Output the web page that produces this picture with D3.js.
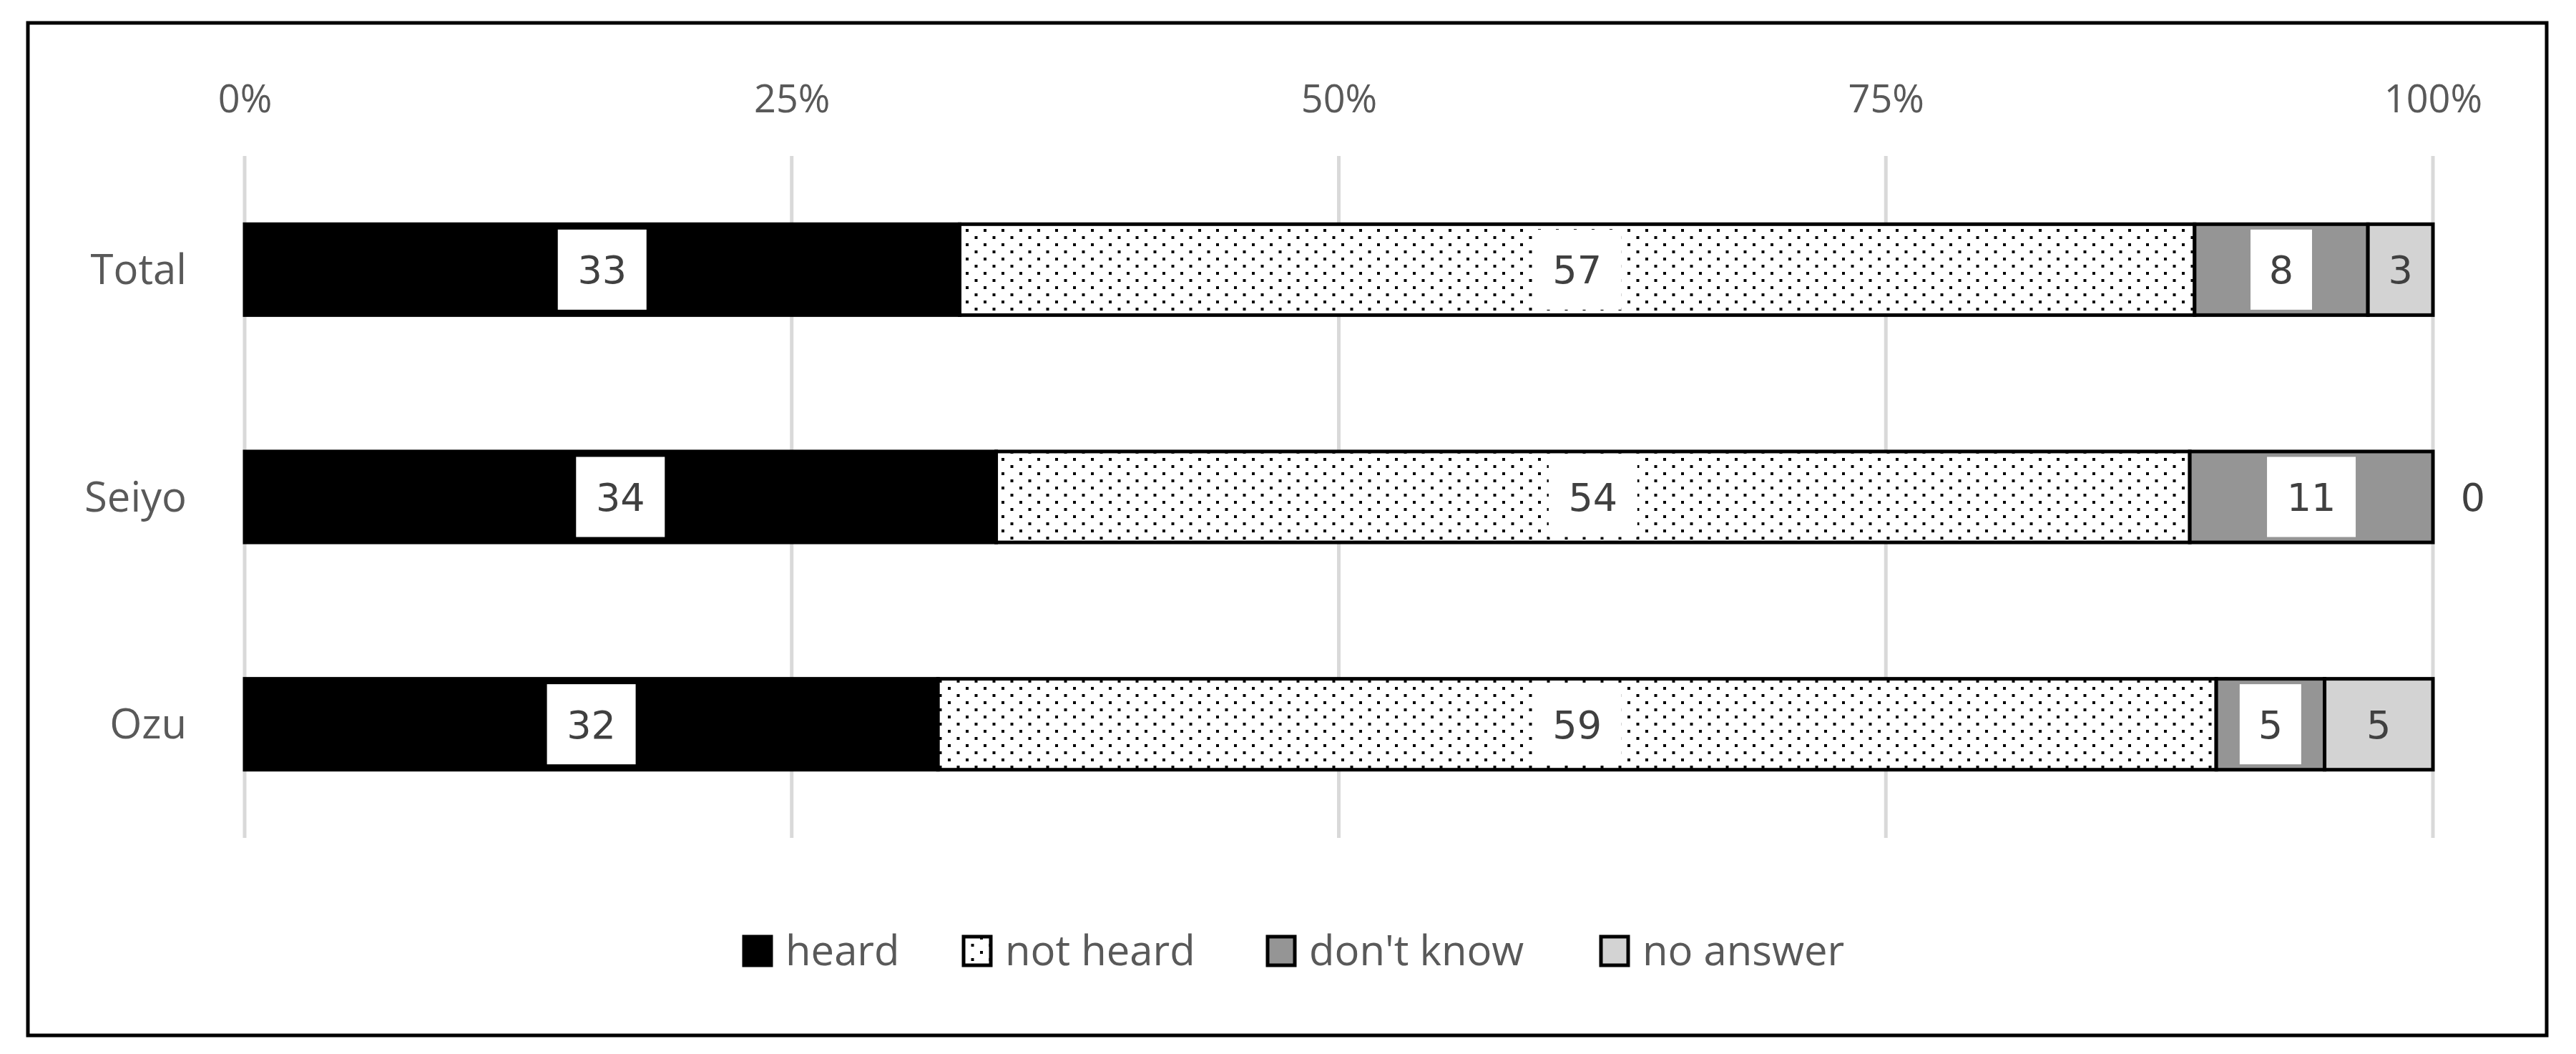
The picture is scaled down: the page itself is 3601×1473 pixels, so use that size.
<!DOCTYPE html>
<html>
<head>
<meta charset="utf-8">
<script src="https://cdn.jsdelivr.net/npm/d3@7"></script>
<style>
  body { margin: 0; background: #fff; }
</style>
</head>
<body>
<div id="chart"></div>
<script>
const categories = ['Total', 'Seiyo', 'Ozu']
const seriesNames = ['heard', 'not heard', "don't know", 'no answer']
const heard = [33, 34, 32]
const notHeard = [57, 54, 59]
const dontKnow = [8, 11, 5]
const noAnswer = [3, 0, 5]
const tickValues = [0, 0.25, 0.5, 0.75, 1]

const width = 3601
const height = 1473
const margin = { left: 342, right: 200, top: 218, bottom: 302 }
const fills = ['#000', 'url(#dots)', '#959595', '#d3d3d3']
const series = [heard, notHeard, dontKnow, noAnswer]

const svg = d3.select('#chart').append('svg')
  .attr('width', width).attr('height', height)

const defs = svg.append('defs')
const pat = defs.append('pattern').attr('id', 'dots')
  .attr('patternUnits', 'userSpaceOnUse').attr('width', 25).attr('height', 20)
pat.append('rect').attr('width', 25).attr('height', 20).attr('fill', '#fff')
pat.append('rect').attr('x', 0).attr('y', 0).attr('width', 4).attr('height', 4).attr('fill', '#000')
pat.append('rect').attr('x', 12.5).attr('y', 10).attr('width', 4).attr('height', 4).attr('fill', '#000')

svg.append('rect').attr('x', 39).attr('y', 32).attr('width', 3521).attr('height', 1415)
  .attr('fill', '#fff').attr('stroke', '#000').attr('stroke-width', 5)

const x = d3.scaleLinear().domain([0, 1]).range([342, 3401])
const y = d3.scaleBand().domain(categories).range([218, 1171]).paddingInner(0.6).paddingOuter(0.3)

// gridlines
svg.append('g').selectAll('line').data(tickValues).join('line')
  .attr('x1', d => x(d)).attr('x2', d => x(d))
  .attr('y1', 218).attr('y2', 1171)
  .attr('stroke', '#d9d9d9').attr('stroke-width', 5)

const xAxis = svg.append('g').attr('transform', 'translate(0,160)')
  .call(d3.axisTop(x).tickValues(tickValues).tickFormat(d3.format('.0%')).tickSize(0))
xAxis.select('.domain').remove()
xAxis.selectAll('text').attr('font-family', 'Open Sans, sans-serif').attr('font-size', 54)
  .attr('fill', '#595959').attr('dy', 0)

const yAxis = svg.append('g').attr('transform', 'translate(264,0)')
  .call(d3.axisLeft(y).tickSize(0))
yAxis.select('.domain').remove()
yAxis.selectAll('text').attr('font-family', 'Open Sans, sans-serif').attr('font-size', 58)
  .attr('fill', '#595959').attr('dy', '0.35em')

// stacked data (normalized to 100%)
const rows = categories.map((c, i) => {
  const vals = series.map(s => s[i])
  const total = d3.sum(vals)
  let acc = 0
  return vals.map((v, k) => {
    const seg = { cat: c, k, v, x0: acc / total, x1: (acc + v) / total }
    acc += v
    return seg
  })
})
const segs = rows.flat()

svg.append('g').selectAll('rect').data(segs.filter(d => d.v > 0)).join('rect')
  .attr('x', d => x(d.x0)).attr('width', d => x(d.x1) - x(d.x0))
  .attr('y', d => y(d.cat)).attr('height', y.bandwidth())
  .attr('fill', d => fills[d.k]).attr('stroke', '#000').attr('stroke-width', 5)

const lab = svg.append('g').selectAll('g').data(segs).join('g')
  .attr('transform', d => {
    const cx = d.v > 0 ? (x(d.x0) + x(d.x1)) / 2 : x(1) + 56
    return `translate(${cx},${y(d.cat) + y.bandwidth() / 2})`
  })
lab.filter(d => d.k < 3).append('rect')
  .attr('x', d => String(d.v).length > 1 ? -62 : -43)
  .attr('width', d => String(d.v).length > 1 ? 124 : 86)
  .attr('y', -56).attr('height', 112).attr('fill', '#fff')
lab.append('text').text(d => d.v)
  .attr('text-anchor', 'middle').attr('dy', '0.36em')
  .attr('font-family', 'DejaVu Sans, sans-serif').attr('font-size', 54).attr('fill', '#404040')

// legend
const legendX = [1038, 1345, 1770, 2236]
const leg = svg.append('g').selectAll('g').data(seriesNames).join('g')
  .attr('transform', (d, i) => `translate(${legendX[i]},1329)`)
leg.append('rect').attr('x', 2).attr('y', -20).attr('width', 38).attr('height', 40)
  .attr('fill', (d, i) => fills[i]).attr('stroke', '#000').attr('stroke-width', 5)
leg.append('text').text(d => d).attr('x', 60).attr('dy', '0.35em')
  .attr('font-family', 'Open Sans, sans-serif').attr('font-size', 58).attr('fill', '#595959')
</script>
</body>
</html>
